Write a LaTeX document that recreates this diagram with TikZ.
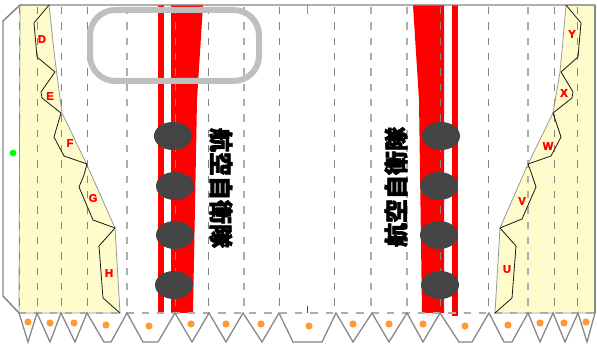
\documentclass[tikz,border=0pt]{standalone}
\usepackage{fontspec}
\setsansfont{Liberation Sans}[BoldFeatures={FakeBold=2.5}]
\newfontfamily\cjkfont{Noto Sans CJK JP}[BoldFeatures={FakeBold=2.5}]
\definecolor{glueorange}{HTML}{FF9933}
\tikzset{
  px/.style={x=0.75pt,y=-0.75pt},
  outline/.style={draw=gray!95,line width=1.1pt,line join=miter},
  foldA/.style={draw=gray!95,line width=0.75pt,dash pattern=on 5.5pt off 6pt},
  foldB/.style={draw=black!32,line width=0.9pt,dash pattern=on 5.5pt off 6pt},
  zig/.style={draw=black!90,line width=0.6pt,line join=miter},
  tab/.style={draw=gray!95,line width=0.95pt,line join=miter},
  yellowpart/.style={fill=yellow!20!white,draw=gray!80,line width=0.6pt},
  redpart/.style={fill=red,draw=none},
  hole/.style={fill=black!73,draw=none},
  glue/.style={fill=glueorange,draw=none},
  letter/.style={text=red,font=\sffamily\bfseries\fontsize{8.3}{9}\selectfont,inner sep=0pt},
  title/.style={text=black,font=\cjkfont\bfseries\fontsize{18}{19}\selectfont,inner sep=0pt}
}
\begin{document}
\begin{tikzpicture}[px]
\useasboundingbox (0,0) rectangle (597,349);
\fill[white] (0,0) rectangle (597,349);
% yellow side panels
\path[yellowpart] (20,5) -- (49,5) -- (55,60) -- (62,113) -- (87,165) -- (115,228) -- (120,313) -- (19,313) -- cycle;
\path[yellowpart] (566,5) -- (563,40) -- (560,72) -- (553,113) -- (528,164) -- (500,228) -- (495,313) -- (595,313) -- (595,5) -- cycle;
% red stripes
\fill[redpart] (158,5) rectangle (164,313);
\fill[redpart] (171,5) -- (203,5) -- (197,100) -- (193,313) -- (171,313) -- cycle;
\fill[redpart] (413,5) -- (444,5) -- (444,313) -- (422,313) -- (419,100) -- cycle;
\fill[redpart] (452,5) rectangle (458,316);
% fold lines
\foreach \xx in {37,61,87,175,208,279,334,440,488,554,577}{\draw[foldA] (\xx,7) -- (\xx,313);}
\foreach \xx in {127,244,371,407,528}{\draw[foldB] (\xx,7) -- (\xx,313);}
\draw[foldB] (19,313) -- (595,313);
\draw[foldA] (19.5,7) -- (19.5,313);
% tiny ticks
\draw[green,line width=0.5pt] (307,5) -- (307,14);
\draw[red,line width=0.7pt] (307,306) -- (307,313);
% outline
\draw[outline] (19,313) -- (3,296) -- (3,21) -- (20,5) -- (595,5);
\draw[outline,line width=1.9pt] (595,5) -- (595,313);
% zigzag cut lines
\draw[zig] (49,5) -- (34,23) -- (37,57) -- (55,72) -- (41,92) -- (42,98) -- (61,113) -- (54,137) -- (64,156) -- (87,164) -- (84,175) -- (79,187) -- (93,220) -- (115,228) -- (99,246) -- (103,298) -- (120,313);
\draw[zig] (566,5) -- (581,23) -- (578,57) -- (561,72) -- (573,92) -- (572,98) -- (553,113) -- (561,137) -- (551,156) -- (528,164) -- (532,175) -- (536,187) -- (522,219) -- (500,228) -- (516,246) -- (512,298) -- (495,313);
% glue tabs
\draw[tab] (19,313) -- (28,342) -- (37,313) -- (50,342) -- (61,313) -- (75,342) -- (87,313) -- (104,342) -- (111,342) -- (127,313) -- (143,342) -- (158,342) -- (175,313) -- (192,342) -- (209,313) -- (226,342) -- (243,313) -- (262,342) -- (279,313) -- (293,342) -- (322,342) -- (336,313) -- (353,342) -- (372,313) -- (389,342) -- (407,313) -- (423,342) -- (440,313) -- (459,342) -- (472,342) -- (489,313) -- (504,342) -- (512,342) -- (528,313) -- (540,342) -- (553,313) -- (565,342) -- (578,313) -- (587,342) -- (595,313);
\foreach \xx/\yy in {28/322,50/323,74/323,106/325,149/326,191/324,226/324,261/324,309/326,353/324,389/324,423/324,465/326,508/325,540/323,564/323,586/322}{\fill[glue] (\xx,\yy) circle[radius=3.6];}
\fill[green] (13,153) circle[radius=3.4];
% windows
\foreach \xx/\yy in {173/136,175/186,175/235,174/285,441/136,439/186,439/235,440/285}{\fill[hole] (\xx,\yy) ellipse[x radius=19,y radius=14];}
% canopy
\draw[black!25,line width=4.5pt,rounded corners=19pt] (90,10) rectangle (259,81);
% letters
\node[letter] (d) at (42,39) {D};
\node[letter] (e) at (50,96) {E};
\node[letter] (f) at (70,143) {F};
\node[letter] (g) at (93,198) {G};
\node[letter] (h) at (109,273) {H};
\node[letter] (y) at (572,34) {Y};
\node[letter] (x) at (564,93) {X};
\node[letter] (w) at (548,146) {W};
\node[letter] (v) at (522,201) {V};
\node[letter] (u) at (507,269) {U};
% titles
\node[title,rotate=-90] (tl) at (221,188) {航空自衛隊};
\node[title,rotate=90] (tr) at (396,187) {航空自衛隊};
\end{tikzpicture}
\end{document}
